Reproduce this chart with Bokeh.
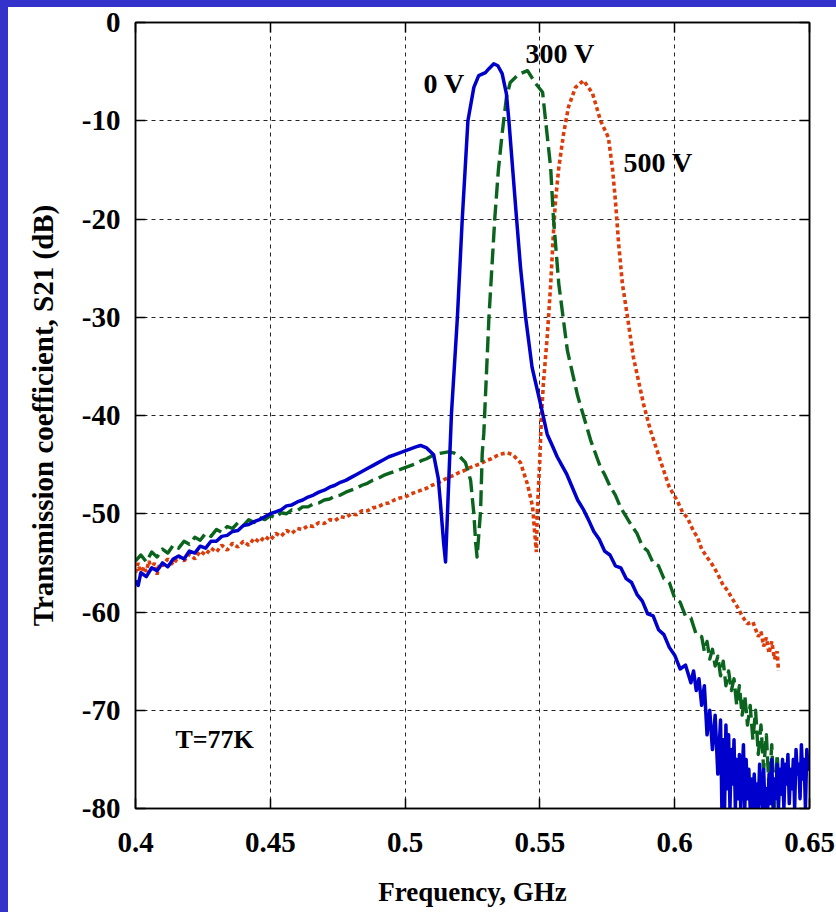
from bokeh.plotting import figure
from bokeh.models import (Range1d, FixedTicker, LinearAxis, CustomJSTickFormatter,
                          ColumnDataSource, CustomJS)
from bokeh.core.properties import value
from bokeh.document import Document
from bokeh.embed import file_html
from bokeh.resources import INLINE

# ---------------- data ----------------
f_0v = [0.400, 0.401, 0.402, 0.404, 0.406, 0.408, 0.410, 0.412, 0.414, 0.416,
        0.418, 0.420, 0.422, 0.424, 0.426, 0.428, 0.430, 0.432, 0.434, 0.436,
        0.438, 0.440, 0.442, 0.444, 0.446, 0.448, 0.450, 0.452, 0.454, 0.456,
        0.458, 0.460, 0.462, 0.464, 0.466, 0.468, 0.470, 0.472, 0.474, 0.476,
        0.478, 0.480, 0.482, 0.484, 0.486, 0.488, 0.490, 0.492, 0.494, 0.496,
        0.498, 0.500, 0.502, 0.504, 0.5057, 0.508, 0.5106, 0.5123, 0.5131, 0.5143,
        0.5150, 0.5162, 0.5172, 0.5194, 0.5212, 0.5223, 0.5233, 0.5255, 0.5273, 0.5298,
        0.5311, 0.5329, 0.5344, 0.5360, 0.5376, 0.5385, 0.5413, 0.5428, 0.5447, 0.5471,
        0.5502, 0.5527, 0.5545, 0.5564, 0.558, 0.560, 0.562, 0.564, 0.566, 0.568,
        0.570, 0.572, 0.574, 0.576, 0.578, 0.580, 0.582, 0.584, 0.586, 0.588,
        0.590, 0.592, 0.594, 0.596, 0.598, 0.600, 0.602, 0.604, 0.606, 0.607,
        0.608, 0.609, 0.610, 0.611, 0.612, 0.613, 0.614, 0.615, 0.616, 0.617,
        0.6175, 0.618, 0.6185, 0.619, 0.6195, 0.620, 0.6205, 0.621, 0.6215, 0.622,
        0.6225, 0.623, 0.6235, 0.624, 0.6245, 0.625, 0.6255, 0.626, 0.6265, 0.627,
        0.6275, 0.628, 0.6285, 0.629, 0.6295, 0.630, 0.6305, 0.631, 0.6315, 0.632,
        0.6325, 0.633, 0.6335, 0.634, 0.6345, 0.635, 0.6355, 0.636, 0.6365, 0.637,
        0.6375, 0.638, 0.6385, 0.639, 0.6395, 0.640, 0.6405, 0.641, 0.6415, 0.642,
        0.6425, 0.643, 0.6435, 0.644, 0.6445, 0.645, 0.6455, 0.646, 0.6465, 0.647,
        0.6475, 0.648, 0.6485, 0.649, 0.6495, 0.650]
s21_0v = [-56.8, -57.3, -56.0, -56.4, -55.5, -55.8, -55.0, -55.4, -54.6, -54.3,
          -54.6, -53.8, -54.0, -53.3, -53.5, -52.8, -52.8, -52.3, -52.2, -51.8,
          -51.7, -51.2, -51.1, -50.8, -50.6, -50.3, -50.0, -49.8, -49.6, -49.2,
          -49.1, -48.8, -48.6, -48.3, -48.1, -47.8, -47.6, -47.3, -47.1, -46.8,
          -46.6, -46.3, -46.0, -45.7, -45.4, -45.1, -44.8, -44.5, -44.2, -44.0,
          -43.8, -43.6, -43.4, -43.2, -43.05, -43.3, -44.0, -46.4, -48.9, -53.0,
          -54.9, -46.6, -39.8, -30.0, -20.0, -14.8, -10.0, -6.6, -5.4, -5.1,
          -4.7, -4.2, -4.4, -5.2, -7.3, -10.0, -19.8, -24.9, -30.0, -35.1,
          -38.8, -41.9, -43.0, -44.2, -45.0, -46.0, -47.3, -48.6, -49.5, -50.6,
          -51.8, -52.6, -53.8, -54.2, -55.3, -55.5, -56.6, -57.0, -58.2, -58.9,
          -60.2, -60.4, -61.8, -62.3, -63.6, -64.4, -65.8, -65.4, -67.2, -66.0,
          -68.0, -66.8, -69.5, -67.5, -72.5, -70.0, -74.0, -70.5, -76.5, -71.0,
          -80.0, -73.0, -80.0, -71.5, -78.0, -72.5, -80.0, -74.0, -77.5, -73.0,
          -80.0, -75.0, -79.0, -74.5, -80.0, -76.5, -73.5, -80.0, -75.0, -79.0,
          -76.0, -80.0, -77.0, -80.0, -76.5, -80.0, -77.5, -80.0, -75.5, -78.5,
          -80.0, -76.0, -80.0, -78.0, -80.0, -76.5, -79.5, -75.0, -80.0, -77.0,
          -79.0, -75.5, -80.0, -76.0, -78.5, -75.0, -80.0, -75.5, -77.5, -74.5,
          -79.5, -76.0, -78.0, -75.0, -80.0, -74.0, -76.5, -75.5, -79.0, -73.5,
          -77.0, -75.0, -80.0, -74.0, -76.0, -75.5]

f_300v = [0.400, 0.402, 0.404, 0.406, 0.408, 0.410, 0.412, 0.414, 0.416, 0.418,
          0.420, 0.422, 0.424, 0.426, 0.428, 0.430, 0.432, 0.434, 0.436, 0.438,
          0.440, 0.442, 0.444, 0.446, 0.448, 0.450, 0.452, 0.454, 0.456, 0.458,
          0.460, 0.462, 0.464, 0.466, 0.468, 0.470, 0.472, 0.474, 0.476, 0.478,
          0.480, 0.482, 0.484, 0.486, 0.488, 0.490, 0.492, 0.494, 0.496, 0.498,
          0.500, 0.502, 0.504, 0.506, 0.508, 0.510, 0.512, 0.514, 0.516, 0.518,
          0.520, 0.5224, 0.5243, 0.5255, 0.5262, 0.5267, 0.528, 0.5286, 0.5292, 0.5311,
          0.5333, 0.5346, 0.536, 0.5376, 0.539, 0.542, 0.5454, 0.5484, 0.551, 0.552,
          0.554, 0.555, 0.557, 0.5602, 0.564, 0.5688, 0.5725, 0.574, 0.576, 0.578,
          0.580, 0.582, 0.584, 0.586, 0.588, 0.590, 0.592, 0.594, 0.596, 0.598,
          0.600, 0.602, 0.604, 0.606, 0.608, 0.610, 0.611, 0.612, 0.613, 0.614,
          0.615, 0.616, 0.617, 0.618, 0.619, 0.620, 0.621, 0.622, 0.623, 0.624,
          0.625, 0.626, 0.627, 0.628, 0.629, 0.630, 0.631, 0.632, 0.633, 0.634,
          0.635, 0.636, 0.637, 0.638, 0.639, 0.640, 0.6405]
s21_300v = [-54.8, -54.2, -54.9, -53.9, -54.4, -53.6, -54.0, -53.2, -53.5, -52.8,
            -53.1, -52.4, -52.7, -52.0, -52.3, -51.6, -51.9, -51.3, -51.5, -50.9,
            -51.2, -50.6, -50.9, -50.4, -50.6, -50.2, -50.4, -49.9, -50.0, -49.6,
            -49.7, -49.3, -49.3, -49.0, -48.9, -48.6, -48.5, -48.2, -48.1, -47.8,
            -47.6, -47.4, -47.1, -46.9, -46.6, -46.4, -46.1, -45.9, -45.7, -45.5,
            -45.3, -45.1, -44.9, -44.6, -44.4, -44.1, -43.9, -43.8, -43.7, -43.8,
            -44.1, -44.8, -46.6, -50.0, -53.0, -54.4, -49.7, -43.9, -41.8, -30.0,
            -19.8, -15.0, -11.3, -7.6, -6.1, -5.3, -4.9, -6.2, -7.1, -9.7,
            -14.8, -19.8, -26.6, -33.4, -38.0, -42.5, -45.3, -46.0, -47.2, -48.1,
            -49.4, -50.3, -51.2, -52.0, -53.3, -53.8, -55.0, -55.3, -56.6, -57.0,
            -58.6, -59.0, -60.4, -60.6, -62.3, -62.5, -64.0, -63.0, -64.8, -63.8,
            -65.5, -64.5, -66.5, -65.0, -67.5, -66.0, -68.0, -66.8, -69.5, -67.5,
            -70.5, -68.5, -71.5, -69.5, -73.0, -70.0, -74.5, -71.5, -76.0, -72.5,
            -78.0, -73.5, -80.0, -74.5, -79.0, -76.0, -80.0]

f_500v = [0.400, 0.401, 0.402, 0.403, 0.404, 0.405, 0.406, 0.407, 0.408, 0.409,
          0.410, 0.412, 0.414, 0.416, 0.418, 0.420, 0.422, 0.424, 0.426, 0.428,
          0.430, 0.432, 0.434, 0.436, 0.438, 0.440, 0.442, 0.444, 0.446, 0.448,
          0.450, 0.452, 0.454, 0.456, 0.458, 0.460, 0.462, 0.464, 0.466, 0.468,
          0.470, 0.472, 0.474, 0.476, 0.478, 0.480, 0.482, 0.484, 0.486, 0.488,
          0.490, 0.492, 0.494, 0.496, 0.498, 0.500, 0.502, 0.504, 0.506, 0.508,
          0.510, 0.512, 0.514, 0.516, 0.518, 0.520, 0.522, 0.524, 0.526, 0.528,
          0.530, 0.532, 0.534, 0.536, 0.538, 0.540, 0.5428, 0.5454, 0.5473, 0.548,
          0.5487, 0.549, 0.5499, 0.5505, 0.5513, 0.5528, 0.554, 0.555, 0.5558, 0.557,
          0.5588, 0.5606, 0.5632, 0.5662, 0.5695, 0.5725, 0.5754, 0.5769, 0.578, 0.5792,
          0.5806, 0.5825, 0.5847, 0.5884, 0.591, 0.5947, 0.598, 0.601, 0.603, 0.6047,
          0.607, 0.6085, 0.610, 0.6122, 0.614, 0.6159, 0.618, 0.6196, 0.621, 0.6233,
          0.625, 0.627, 0.629, 0.631, 0.632, 0.633, 0.634, 0.635, 0.636, 0.637,
          0.638, 0.6385]
s21_500v = [-56.0, -55.0, -56.3, -55.4, -55.9, -54.8, -55.7, -55.0, -56.2, -55.1,
            -55.3, -54.6, -55.2, -54.3, -54.8, -54.1, -54.6, -53.8, -54.2, -53.5,
            -53.9, -53.2, -53.7, -53.0, -53.4, -52.8, -53.2, -52.5, -52.9, -52.3,
            -52.7, -52.0, -52.3, -51.7, -52.0, -51.5, -51.6, -51.2, -51.3, -50.9,
            -51.0, -50.6, -50.7, -50.3, -50.4, -50.0, -50.1, -49.7, -49.7, -49.4,
            -49.3, -49.0, -48.9, -48.6, -48.4, -48.3, -48.0, -47.8, -47.6, -47.4,
            -47.1, -46.9, -46.6, -46.3, -46.1, -45.8, -45.6, -45.3, -45.1, -44.9,
            -44.6, -44.4, -44.1, -43.9, -43.8, -44.0, -44.8, -47.0, -49.3, -51.7,
            -53.9, -50.0, -44.9, -40.5, -36.7, -31.7, -26.6, -21.5, -18.1, -14.8,
            -11.3, -8.6, -6.6, -5.9, -7.2, -10.0, -11.7, -14.8, -18.1, -22.5,
            -26.6, -30.0, -34.1, -38.8, -41.5, -44.6, -47.3, -48.7, -49.9, -50.4,
            -51.8, -52.4, -53.6, -54.5, -55.2, -56.1, -57.3, -57.8, -58.5, -59.5,
            -60.4, -61.2, -61.0, -62.5, -62.0, -63.5, -62.6, -64.2, -63.0, -64.8,
            -64.0, -66.0]

x_ticks = [0.4, 0.45, 0.5, 0.55, 0.6, 0.65]
x_tick_labels = ["0.4", "0.45", "0.5", "0.55", "0.6", "0.65"]
y_ticks = [0, -10, -20, -30, -40, -50, -60, -70, -80]
y_tick_labels = ["0", "-10", "-20", "-30", "-40", "-50", "-60", "-70", "-80"]

label_text = ["0 V", "300 V", "500 V", "T=77K"]
label_f = [0.5068, 0.5447, 0.5810, 0.4148]
label_db = [-6.2, -3.2, -14.3, -73.0]
label_size = ["28px", "28px", "28px", "26px"]

assert len(f_0v) == len(s21_0v)
assert len(f_300v) == len(s21_300v)
assert len(f_500v) == len(s21_500v)

# ---------------- figure ----------------
SERIF = "Liberation Serif"

p = figure(width=828, height=905, output_backend="svg", toolbar_location=None,
           x_range=Range1d(0.4, 0.65), y_range=Range1d(-80, 0),
           min_border_left=127, min_border_right=27, min_border_top=15,
           min_border_bottom=104,
           background_fill_color="white", border_fill_color="white",
           outline_line_color="black", outline_line_width=1.5)

for ax, ticks, labels in ((p.xaxis[0], x_ticks, x_tick_labels),
                          (p.yaxis[0], y_ticks, y_tick_labels)):
    ax.ticker = FixedTicker(ticks=ticks)
    ax.major_label_overrides = dict(zip(ticks, labels))
    ax.major_label_text_font = SERIF
    ax.major_label_text_font_style = "bold"
    ax.major_label_text_font_size = "29px"
    ax.major_label_text_color = "black"
    ax.axis_label_text_font = SERIF
    ax.axis_label_text_font_style = "bold"
    ax.axis_label_text_color = "black"
    ax.axis_line_color = "black"
    ax.axis_line_width = 1.5
    ax.major_tick_in = 10
    ax.major_tick_out = 0
    ax.major_tick_line_color = "black"
    ax.major_tick_line_width = 1.5
    ax.minor_tick_line_color = None

p.xaxis[0].axis_label = "Frequency, GHz"
p.xaxis[0].axis_label_text_font_size = "27px"
p.xaxis[0].major_label_standoff = 24
p.xaxis[0].axis_label_standoff = 22
p.yaxis[0].axis_label = "Transmission coefficient, S21 (dB)"
p.yaxis[0].axis_label_text_font_size = "29px"
p.yaxis[0].major_label_standoff = 15
p.yaxis[0].axis_label_standoff = 20

# mirrored ticks on top and right
blank = CustomJSTickFormatter(code="return ''")
for loc, ticks in (("above", x_ticks), ("right", y_ticks)):
    mirror = LinearAxis(ticker=FixedTicker(ticks=ticks), formatter=blank,
                        axis_line_color="black", axis_line_width=1.5,
                        major_tick_in=10, major_tick_out=0,
                        major_tick_line_color="black", major_tick_line_width=1.5,
                        minor_tick_line_color=None, major_label_standoff=0,
                        major_label_text_font_size="1px")
    p.add_layout(mirror, loc)

p.xgrid.ticker = FixedTicker(ticks=x_ticks)
p.ygrid.ticker = FixedTicker(ticks=y_ticks)
p.grid.grid_line_color = "black"
p.grid.grid_line_alpha = 0.85
p.grid.grid_line_width = 1
p.grid.grid_line_dash = "4 4"

# ---------------- curves ----------------
p.line(f_500v, s21_500v, line_color="#dc3c0a", line_width=3.6, line_dash="4 3")
p.line(f_300v, s21_300v, line_color="#0a641e", line_width=3.4, line_dash="16 6",
       line_join="round")
p.line(f_0v, s21_0v, line_color="#0000cd", line_width=3.5, line_join="round")

src = ColumnDataSource(dict(x=label_f, y=label_db, text=label_text, size=label_size))
p.text(x="x", y="y", text="text", source=src, text_font=value(SERIF),
       text_font_style="bold", text_font_size="size", text_color="black",
       text_align="left", text_baseline="middle")

# ---------------- page: blue slide edge on the left and top ----------------
doc = Document()
doc.add_root(p)
doc.js_on_event("document_ready", CustomJS(code="""
const s = document.body.style;
s.margin = '0px';
s.borderLeft = '8px solid #3333cc';
s.borderTop = '7px solid #3333cc';
s.boxSizing = 'border-box';
s.background = '#ffffff';
document.documentElement.style.background = '#ffffff';
"""))

open("out.html", "w").write(file_html(p, INLINE))
